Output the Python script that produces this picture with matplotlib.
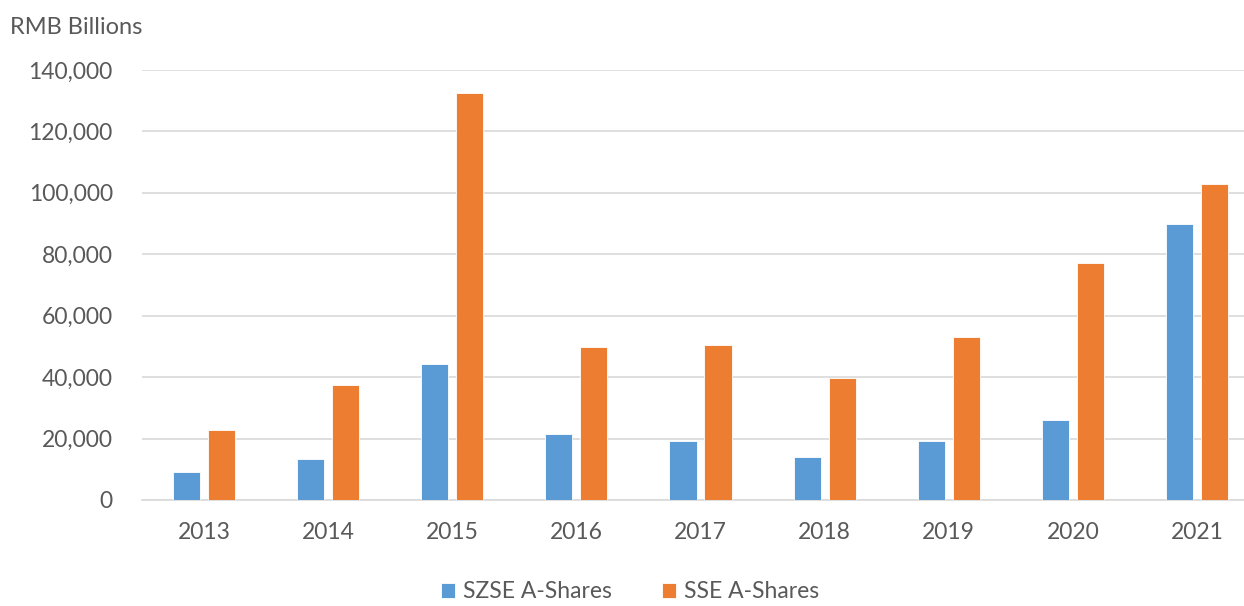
import matplotlib
matplotlib.use("Agg")
import matplotlib.pyplot as plt
import numpy as np

years = ["2013", "2014", "2015", "2016", "2017", "2018", "2019", "2020", "2021"]
szse = [9000, 13400, 44400, 21500, 19200, 14000, 19200, 26100, 89800]
sse = [22800, 37500, 132600, 49900, 50600, 39800, 53200, 77100, 102900]
yticks = [0, 20000, 40000, 60000, 80000, 100000, 120000, 140000]

plt.rcParams['font.family'] = ['Lato', 'DejaVu Sans']
fig = plt.figure(figsize=(12.44, 6.06), dpi=100)
# axes extends slightly past the right edge, as in the cropped reference
ax = fig.add_axes([142 / 1244, 0.175, 1117 / 1244, 0.7095])

x = np.arange(len(years))
w = 0.218
off = 0.141
ax.bar(x - off, szse, w, color="#5B9BD5", edgecolor="white", linewidth=0.6, label="SZSE A-Shares", zorder=3)
ax.bar(x + off, sse, w, color="#ED7D31", edgecolor="white", linewidth=0.6, label="SSE A-Shares", zorder=3)

ax.set_xlim(-0.5, len(years) - 0.5)
ax.set_ylim(0, 140000)
ax.set_yticks(yticks)
ax.set_yticklabels([f"{v:,}" for v in yticks])
ax.set_xticks(x)
ax.set_xticklabels(years)
ax.grid(axis="y", color="#D9D9D9", linewidth=1.2, zorder=0)
for s in ["top", "right", "left"]:
    ax.spines[s].set_visible(False)
ax.spines["bottom"].set_color("#D9D9D9")
ax.spines["bottom"].set_linewidth(1.2)
ax.tick_params(axis="both", length=0, labelsize=16.5, labelcolor="#595959")
ax.tick_params(axis="y", pad=21)
ax.tick_params(axis="x", pad=16)

fig.text(0.008, 0.955, "RMB Billions", fontsize=17, color="#595959", ha="left", va="center")

leg = fig.legend(loc="center", bbox_to_anchor=(630 / 1244, 1 - 592 / 606), ncol=2, frameon=False,
                 fontsize=16.5, labelcolor="#595959", handlelength=0.6, handleheight=0.6,
                 columnspacing=2.2, handletextpad=0.35, borderpad=0.1)

fig.savefig("out.png", dpi=100, facecolor="white")
